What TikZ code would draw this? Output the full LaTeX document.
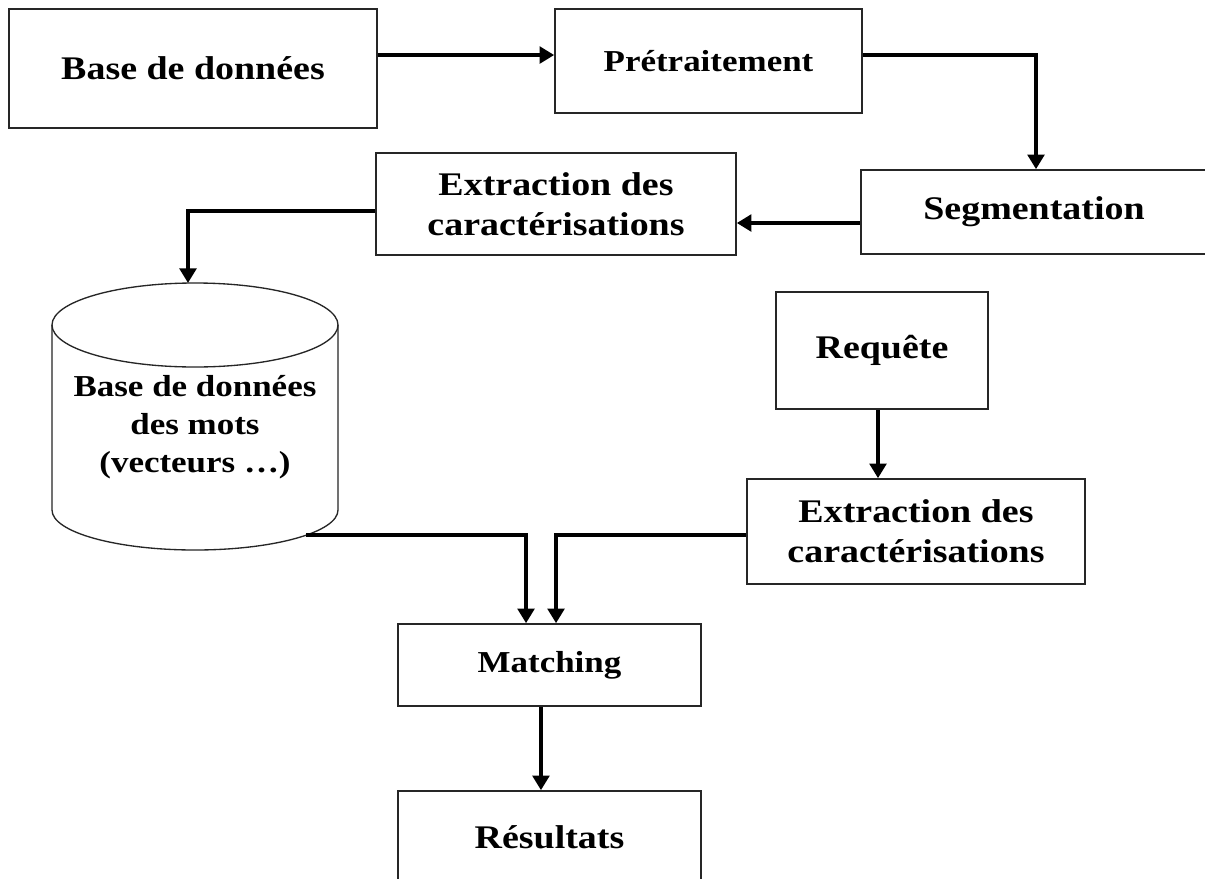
\documentclass[tikz,border=0pt]{standalone}
\usepackage{fontspec}
\setmainfont{Liberation Serif}[FakeStretch=1.15]
\usetikzlibrary{arrows.meta}
\newcommand\pxu{0.75pt}
\tikzset{
  box/.style={draw=black!85, line width=1.2pt, fill=white, inner sep=0pt, align=center},
  bigtxt/.style={font=\fontsize{24.75}{30}\selectfont\bfseries},
  smalltxt/.style={font=\fontsize{22.8}{28.5}\selectfont\bfseries},
  flow/.style={line width=3.2pt, -{Triangle[length=11pt,width=12.5pt]}},
  cylline/.style={draw=black!85, line width=1pt},
}
\begin{document}
\begin{tikzpicture}[x=0.75pt,y=-0.75pt]
\fill[white] (0,0) rectangle (1205,878);
\useasboundingbox (0,0) rectangle (1205,878);
\clip (0,0) rectangle (1205,878);

% boxes
\node[box,bigtxt,minimum width=368*\pxu,minimum height=119*\pxu] (bd) at (193,68.5) {Base de données};
\node[box,smalltxt,minimum width=307*\pxu,minimum height=104*\pxu] (pre) at (708.5,61) {Prétraitement};
\node[box,bigtxt,minimum width=346*\pxu,minimum height=84*\pxu] (seg) at (1034,212) {Segmentation};
\node[box,bigtxt,minimum width=360*\pxu,minimum height=102*\pxu] (ext1) at (556,204) {Extraction des\\caractérisations};
\node[box,bigtxt,minimum width=212*\pxu,minimum height=117*\pxu] (req) at (882,350.5) {Requête};
\node[box,bigtxt,minimum width=338*\pxu,minimum height=105*\pxu] (ext2) at (916,531.5) {Extraction des\\caractérisations};
\node[box,smalltxt,minimum width=303*\pxu,minimum height=82*\pxu] (mat) at (549.5,665) {Matching};
\node[box,bigtxt,minimum width=303*\pxu,minimum height=92*\pxu] (res) at (549.5,837) {Résultats};

% cylinder
\fill[white] (52,325) -- (52,510) arc[start angle=180,end angle=0,x radius=143,y radius=40] -- (338,325) -- cycle;
\draw[cylline,fill=white] (195,325) ellipse[x radius=143, y radius=42];
\draw[cylline] (52,325) -- (52,510) arc[start angle=180,end angle=0,x radius=143,y radius=40] -- (338,325);
\node[smalltxt,align=center,inner sep=0pt] (cyl) at (195,427) {Base de données\\des mots\\(vecteurs …)};
\coordinate (cyltop) at (188,283);
\coordinate (cylout) at (306,535);

% connectors
\path ([yshift=10.1pt]bd.east) coordinate (bdout);
\draw[flow] (bdout) -- (bdout -| pre.west);
\path ([yshift=4.5pt]pre.east) coordinate (preout);
\draw[flow] (preout) -| ([xshift=1.5pt]seg.north);
\path ([yshift=-8.25pt]seg.west) coordinate (segout);
\draw[flow] (segout) -- (segout -| ext1.east);
\path ([yshift=-5.25pt]ext1.west) coordinate (e1out);
\draw[flow] (e1out) -| (cyltop);
\draw[flow] ([xshift=-3pt]req.south) -- ([xshift=-3pt]req.south |- ext2.north);
\draw[flow] (cylout) -| ([xshift=-17.6pt]mat.north);
\path ([yshift=-2.6pt]ext2.west) coordinate (e2out);
\draw[flow] (e2out) -| ([xshift=4.9pt]mat.north);
\draw[flow] ([xshift=-6.4pt]mat.south) -- ([xshift=-6.4pt]res.north);
\end{tikzpicture}
\end{document}
